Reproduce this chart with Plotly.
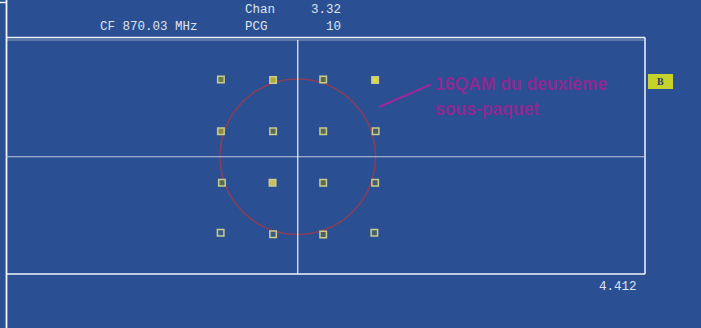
import plotly.graph_objects as go
import numpy as np

# Constellation points (I, Q)
pt_i = [-2.99, -0.96, 0.99, 3.01,
        -2.99, -0.96, 0.99, 3.03,
        -2.95, -0.98, 0.99, 3.01,
        -3.00, -0.96, 0.99, 2.98]
pt_q = [3.01, 2.99, 3.01, 2.99,
        0.99, 0.99, 0.99, 0.99,
        -1.01, -1.01, -1.01, -1.01,
        -2.96, -3.02, -3.03, -2.96]
pt_fill = ["#6a7a4a", "#b0a838", "#5a6a50", "#e0d840",
           "#8a8a40", "#5a6a58", "#5a6a50", "#4a5a68",
           "#5a6a58", "#c8c060", "#5a6a50", "#4a5a68",
           "#3a5a80", "#3a5a88", "#4a6060", "#4a6068"]
circle_radius = 3.03

header_labels = ["Chan", "PCG"]
header_values = ["3.32", "10"]
cf_label = "CF 870.03 MHz"
scale_label = "4.412"
note_lines = ["16QAM du deuxième", "sous-paquet"]
marker_label = "B"

# axis geometry (units)
PX = 25.7
CX, CY = 297.75, 156.75
W, H = 701, 328
xr = [(0 - CX) / PX, (W - CX) / PX]
yr = [(CY - H) / PX, CY / PX]

def ux(px):
    return (px - CX) / PX

def uy(py):
    return (CY - py) / PX

fig = go.Figure()

frame_col = "#f0f4ff"
grid_col = "#c0c8dc"

# circle
th = np.linspace(0, 2 * np.pi, 361)
fig.add_trace(go.Scatter(x=circle_radius * np.cos(th), y=circle_radius * np.sin(th),
                         mode="lines", line=dict(color="#8a3e58", width=1.5),
                         hoverinfo="skip", showlegend=False))

# points
fig.add_trace(go.Scatter(x=pt_i, y=pt_q, mode="markers",
                         marker=dict(symbol="square", size=6.5, color=pt_fill,
                                     line=dict(color="#c8cc8c", width=1.5)),
                         showlegend=False))

shapes = []
# box frame
shapes.append(dict(type="line", x0=ux(6), x1=ux(645), y0=uy(37.5), y1=uy(37.5),
                   line=dict(color=frame_col, width=1.3)))
shapes.append(dict(type="line", x0=ux(6), x1=ux(645), y0=uy(40), y1=uy(40),
                   line=dict(color="#8fa0bc", width=1.2)))
shapes.append(dict(type="line", x0=ux(6), x1=ux(645), y0=uy(274), y1=uy(274),
                   line=dict(color=frame_col, width=1.5)))
shapes.append(dict(type="line", x0=ux(645), x1=ux(645), y0=uy(37.5), y1=uy(274),
                   line=dict(color=frame_col, width=1.5)))
# left long line
shapes.append(dict(type="line", x0=ux(6.5), x1=ux(6.5), y0=uy(0), y1=uy(328),
                   line=dict(color=frame_col, width=1.8)))
shapes.append(dict(type="line", x0=ux(0), x1=ux(6.5), y0=uy(2.5), y1=uy(2.5),
                   line=dict(color=frame_col, width=1.5)))
# center cross
shapes.append(dict(type="line", x0=ux(6), x1=ux(645), y0=0, y1=0,
                   line=dict(color=grid_col, width=1.2)))
shapes.append(dict(type="line", x0=0, x1=0, y0=uy(40), y1=uy(274),
                   line=dict(color=frame_col, width=1.2)))
# pointer line
shapes.append(dict(type="line", x0=ux(379), x1=ux(431), y0=uy(107), y1=uy(84.5),
                   line=dict(color="#9a2a9a", width=2.2)))
# B box
shapes.append(dict(type="rect", x0=ux(648), x1=ux(673), y0=uy(74), y1=uy(89),
                   line=dict(width=0), fillcolor="#c4d22a"))

mono = "Liberation Mono, Courier New, monospace"
txtcol = "#dfe4ee"
ann = []
ann.append(dict(x=ux(243), y=uy(10), text=header_labels[0], xanchor="left", yanchor="middle"))
ann.append(dict(x=ux(343), y=uy(10), text=header_values[0], xanchor="right", yanchor="middle"))
ann.append(dict(x=ux(98), y=uy(27), text=cf_label, xanchor="left", yanchor="middle"))
ann.append(dict(x=ux(243), y=uy(27), text=header_labels[1], xanchor="left", yanchor="middle"))
ann.append(dict(x=ux(343), y=uy(27), text=header_values[1], xanchor="right", yanchor="middle"))
ann.append(dict(x=ux(639), y=uy(287), text=scale_label, xanchor="right", yanchor="middle"))
for a in ann:
    a.update(xref="x", yref="y", showarrow=False,
             font=dict(family=mono, size=12.5, color=txtcol))

note_font = dict(family="Liberation Sans, Arial, sans-serif",
                 size=17.5, color="#8b2a90")
ann.append(dict(x=ux(433), y=uy(84), xref="x", yref="y", showarrow=False,
                text="<b>" + note_lines[0] + "</b>", xanchor="left", yanchor="middle", font=note_font))
ann.append(dict(x=ux(433), y=uy(109), xref="x", yref="y", showarrow=False,
                text="<b>" + note_lines[1] + "</b>", xanchor="left", yanchor="middle", font=note_font))
ann.append(dict(x=ux(660.5), y=uy(81.5), xref="x", yref="y", showarrow=False,
                text="<b>" + marker_label + "</b>", xanchor="center", yanchor="middle",
                font=dict(family="Liberation Serif, serif", size=10, color="#2a3a6a")))

fig.update_layout(
    width=W, height=H, margin=dict(l=0, r=0, t=0, b=0),
    paper_bgcolor="#2a4f93", plot_bgcolor="#2a4f93",
    xaxis=dict(range=xr, visible=False, fixedrange=True),
    yaxis=dict(range=yr, visible=False, fixedrange=True),
    shapes=shapes, annotations=ann, showlegend=False,
)

fig.write_html("out.html")
